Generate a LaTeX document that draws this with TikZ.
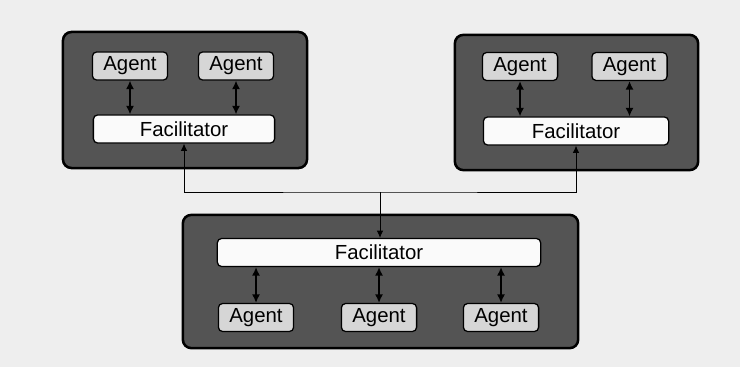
\documentclass[tikz,border=0pt]{standalone}
\usepackage{fontspec}
\setsansfont{Liberation Sans}
\usetikzlibrary{arrows.meta,positioning,calc}
\definecolor{pageBg}{RGB}{238,238,238}
\definecolor{groupFill}{RGB}{84,84,84}
\definecolor{agentFill}{RGB}{214,214,214}
\definecolor{facFill}{RGB}{250,250,250}

\begin{document}
\begin{tikzpicture}[
  x=0.025cm, y=-0.025cm,
  font=\sffamily\fontsize{14.5}{16}\selectfont,
  group/.style={rounded corners=6pt, draw=black, line width=1.8pt, fill=groupFill},
  agent/.style={rounded corners=3pt, draw=black, line width=0.9pt, fill=agentFill,
                minimum width=1.88cm, minimum height=0.7cm, inner sep=0pt},
  fac/.style={rounded corners=3pt, draw=black, line width=0.9pt, fill=facFill,
              minimum height=0.7cm, inner sep=0pt},
  link/.style={line width=1.1pt, {Latex[length=2.1mm,width=2mm]}-{Latex[length=2.1mm,width=2mm]}},
  bus/.style={line width=0.6pt},
]

% ---------- page ----------
\fill[pageBg] (0,0) rectangle (740,367);
\useasboundingbox (0,0) rectangle (740,367);

% ---------- left group ----------
\node[group, minimum width=6.1cm, minimum height=3.4cm] (grpL) at (185,100) {};
\node[agent] (agL1) at (130,66) {Agent};
\node[agent] (agL2) at (236,66) {Agent};
\node[fac, minimum width=4.53cm] (facL) at (184,129) {Facilitator};
\draw[link] (agL1) -- (agL1 |- facL.north);
\draw[link] (agL2) -- (agL2 |- facL.north);

% ---------- right group ----------
\node[group, minimum width=6.08cm, minimum height=3.38cm] (grpR) at (576.5,102.5) {};
\node[agent] (agR1) at (520,66.5) {Agent};
\node[agent] (agR2) at (629.5,66.5) {Agent};
\node[fac, minimum width=4.63cm] (facR) at (576,131) {Facilitator};
\draw[link] (agR1) -- (agR1 |- facR.north);
\draw[link] (agR2) -- (agR2 |- facR.north);

% ---------- bottom group ----------
\node[group, minimum width=9.88cm, minimum height=3.33cm] (grpB) at (380.5,281.5) {};
\node[fac, minimum width=8.08cm] (facB) at (379,252.5) {Facilitator};
\node[agent] (agB1) at (256,317.5) {Agent};
\node[agent] (agB2) at (379,317.5) {Agent};
\node[agent] (agB3) at (501,317.5) {Agent};
\draw[link] (facB.south -| agB1) -- (agB1);
\draw[link] (facB.south -| agB2) -- (agB2);
\draw[link] (facB.south -| agB3) -- (agB3);

% ---------- bus between facilitators ----------
\coordinate (busC) at (380,192);
\draw[bus, {Latex[length=1.8mm,width=1.6mm]}-{Latex[length=1.8mm,width=1.6mm]}]
  (facL.south) |- (busC) -| (facR.south);
\draw[bus, -{Latex[length=1.8mm,width=1.6mm]}] (busC) -- (facB.north -| busC);

\end{tikzpicture}
\end{document}
